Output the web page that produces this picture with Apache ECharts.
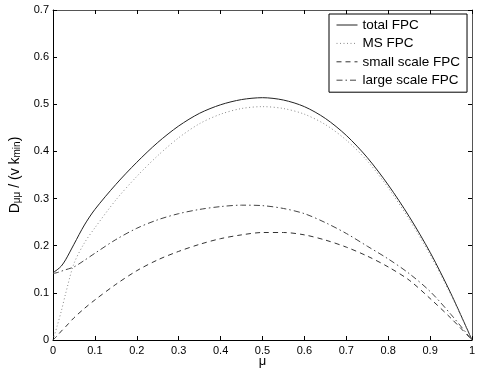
<!DOCTYPE html>
<html>
<head>
<meta charset="utf-8">
<script src="https://cdn.jsdelivr.net/npm/echarts@6/dist/echarts.min.js"></script>
<style>
  html, body { margin: 0; padding: 0; background: #fff; }
  #chart { width: 479px; height: 369px; }
</style>
</head>
<body>
<div id="chart"></div>
<script>
// mu grid and curve values
var mu = [0, 0.01, 0.02, 0.03, 0.05, 0.075, 0.1, 0.15, 0.2, 0.25, 0.3, 0.35, 0.4, 0.45,
  0.5, 0.55, 0.6, 0.65, 0.7, 0.75, 0.8, 0.85, 0.9, 0.95, 1];
var totalFPC = [0.143, 0.149, 0.157, 0.170, 0.203, 0.244, 0.277, 0.330, 0.377, 0.419, 0.454,
  0.481, 0.499, 0.510, 0.514, 0.509, 0.495, 0.470, 0.434, 0.387, 0.329, 0.262, 0.186, 0.098, 0];
var msFPC = [0, 0.030, 0.062, 0.098, 0.162, 0.206, 0.238, 0.297, 0.347, 0.391, 0.429,
  0.459, 0.479, 0.491, 0.495, 0.491, 0.479, 0.457, 0.424, 0.380, 0.323, 0.256, 0.181, 0.095, 0];
var smallFPC = [0, 0.009, 0.019, 0.028, 0.047, 0.067, 0.085, 0.118, 0.147, 0.170, 0.188,
  0.203, 0.215, 0.223, 0.228, 0.228, 0.223, 0.212, 0.197, 0.178, 0.155, 0.127, 0.088, 0.046, 0];
var largeFPC = [0.141, 0.143, 0.146, 0.149, 0.155, 0.169, 0.184, 0.213, 0.237, 0.255, 0.268,
  0.277, 0.283, 0.286, 0.285, 0.279, 0.268, 0.249, 0.226, 0.199, 0.172, 0.141, 0.103, 0.054, 0];
var xTicks = [0, 0.1, 0.2, 0.3, 0.4, 0.5, 0.6, 0.7, 0.8, 0.9, 1];
var yTicks = [0, 0.1, 0.2, 0.3, 0.4, 0.5, 0.6, 0.7];

function pairs(ys) {
  return mu.map(function (m, i) { return [m, ys[i]]; });
}
function fmt(v) { return String(+v.toFixed(1)); }

var font = "'Liberation Sans', Arial, Helvetica, sans-serif";

var myChart = echarts.init(document.getElementById("chart"), null, { renderer: "canvas" });

var baseX = {
  type: "value",
  min: xTicks[0],
  max: xTicks[xTicks.length - 1],
  interval: 0.1,
  splitLine: { show: false },
  axisTick: { inside: true, length: 4, lineStyle: { color: "#000" } },
};
var baseY = {
  type: "value",
  min: yTicks[0],
  max: yTicks[yTicks.length - 1],
  interval: 0.1,
  splitLine: { show: false },
  axisTick: { inside: true, length: 4, lineStyle: { color: "#000" } },
};

var option = {
  animation: false,
  backgroundColor: "#fff",
  textStyle: { fontFamily: font },
  grid: { left: 53, right: 7, top: 10, bottom: 29, containLabel: false, outerBoundsMode: "none" },
  legend: {
    orient: "vertical",
    left: 329,
    top: 14,
    itemWidth: 21,
    itemHeight: 10,
    itemGap: 4.4,
    padding: [4, 7, 5, 7],
    borderColor: "#000",
    borderWidth: 1,
    backgroundColor: "#fff",
    itemStyle: { color: "rgba(0,0,0,0)", borderColor: "rgba(0,0,0,0)", borderWidth: 0, opacity: 0 },
    lineStyle: { width: 1 },
    textStyle: { fontFamily: font, fontSize: 13.5, color: "#000" },
    data: ["total FPC", "MS FPC", "small scale FPC", "large scale FPC"],
  },
  xAxis: [
    Object.assign({}, baseX, {
      position: "bottom",
      axisLine: { onZero: false, lineStyle: { color: "#000", width: 1 } },
      axisLabel: { color: "#000", fontSize: 11, margin: 5, formatter: fmt },
      name: "μ",
      nameLocation: "middle",
      nameGap: 15,
      nameMoveOverlap: false,
      nameTextStyle: { color: "#000", fontSize: 13 },
    }),
    Object.assign({}, baseX, {
      position: "top",
      axisLine: { onZero: false, lineStyle: { color: "#555", width: 1 } },
      axisLabel: { show: false },
    }),
  ],
  yAxis: [
    Object.assign({}, baseY, {
      position: "left",
      axisLine: { onZero: false, lineStyle: { color: "#000", width: 1 } },
      axisLabel: { color: "#000", fontSize: 11, margin: 4, formatter: fmt },
      name: "{n|D}{s|μμ}{n| / (v k}{s|min}{n|)}",
      nameLocation: "middle",
      nameRotate: 90,
      nameGap: 31,
      nameMoveOverlap: false,
      nameTextStyle: {
        color: "#000",
        rich: {
          n: { fontSize: 14, fontFamily: font, color: "#000", lineHeight: 16, verticalAlign: "bottom" },
          s: { fontSize: 10, fontFamily: font, color: "#000", lineHeight: 4, verticalAlign: "bottom" },
        },
      },
    }),
    Object.assign({}, baseY, {
      position: "right",
      axisLine: { onZero: false, lineStyle: { color: "#555", width: 1 } },
      axisLabel: { show: false },
    }),
  ],
  series: [
    {
      name: "total FPC",
      type: "line",
      smooth: 0.3,
      symbol: "none",
      lineStyle: { color: "#222", width: 1, type: "solid" },
      itemStyle: { color: "#222" },
      data: pairs(totalFPC),
    },
    {
      name: "MS FPC",
      type: "line",
      smooth: 0.3,
      symbol: "none",
      lineStyle: { color: "#888", width: 1, type: [1, 2.5] },
      itemStyle: { color: "#888" },
      data: pairs(msFPC),
    },
    {
      name: "small scale FPC",
      type: "line",
      smooth: 0.3,
      symbol: "none",
      lineStyle: { color: "#333", width: 1, type: [5, 4] },
      itemStyle: { color: "#333" },
      data: pairs(smallFPC),
    },
    {
      name: "large scale FPC",
      type: "line",
      smooth: 0.3,
      symbol: "none",
      lineStyle: { color: "#444", width: 1, type: [6, 3, 1.5, 3] },
      itemStyle: { color: "#444" },
      data: pairs(largeFPC),
    },
  ],
};

myChart.setOption(option);
window.addEventListener("resize", myChart.resize);
</script>
</body>
</html>
